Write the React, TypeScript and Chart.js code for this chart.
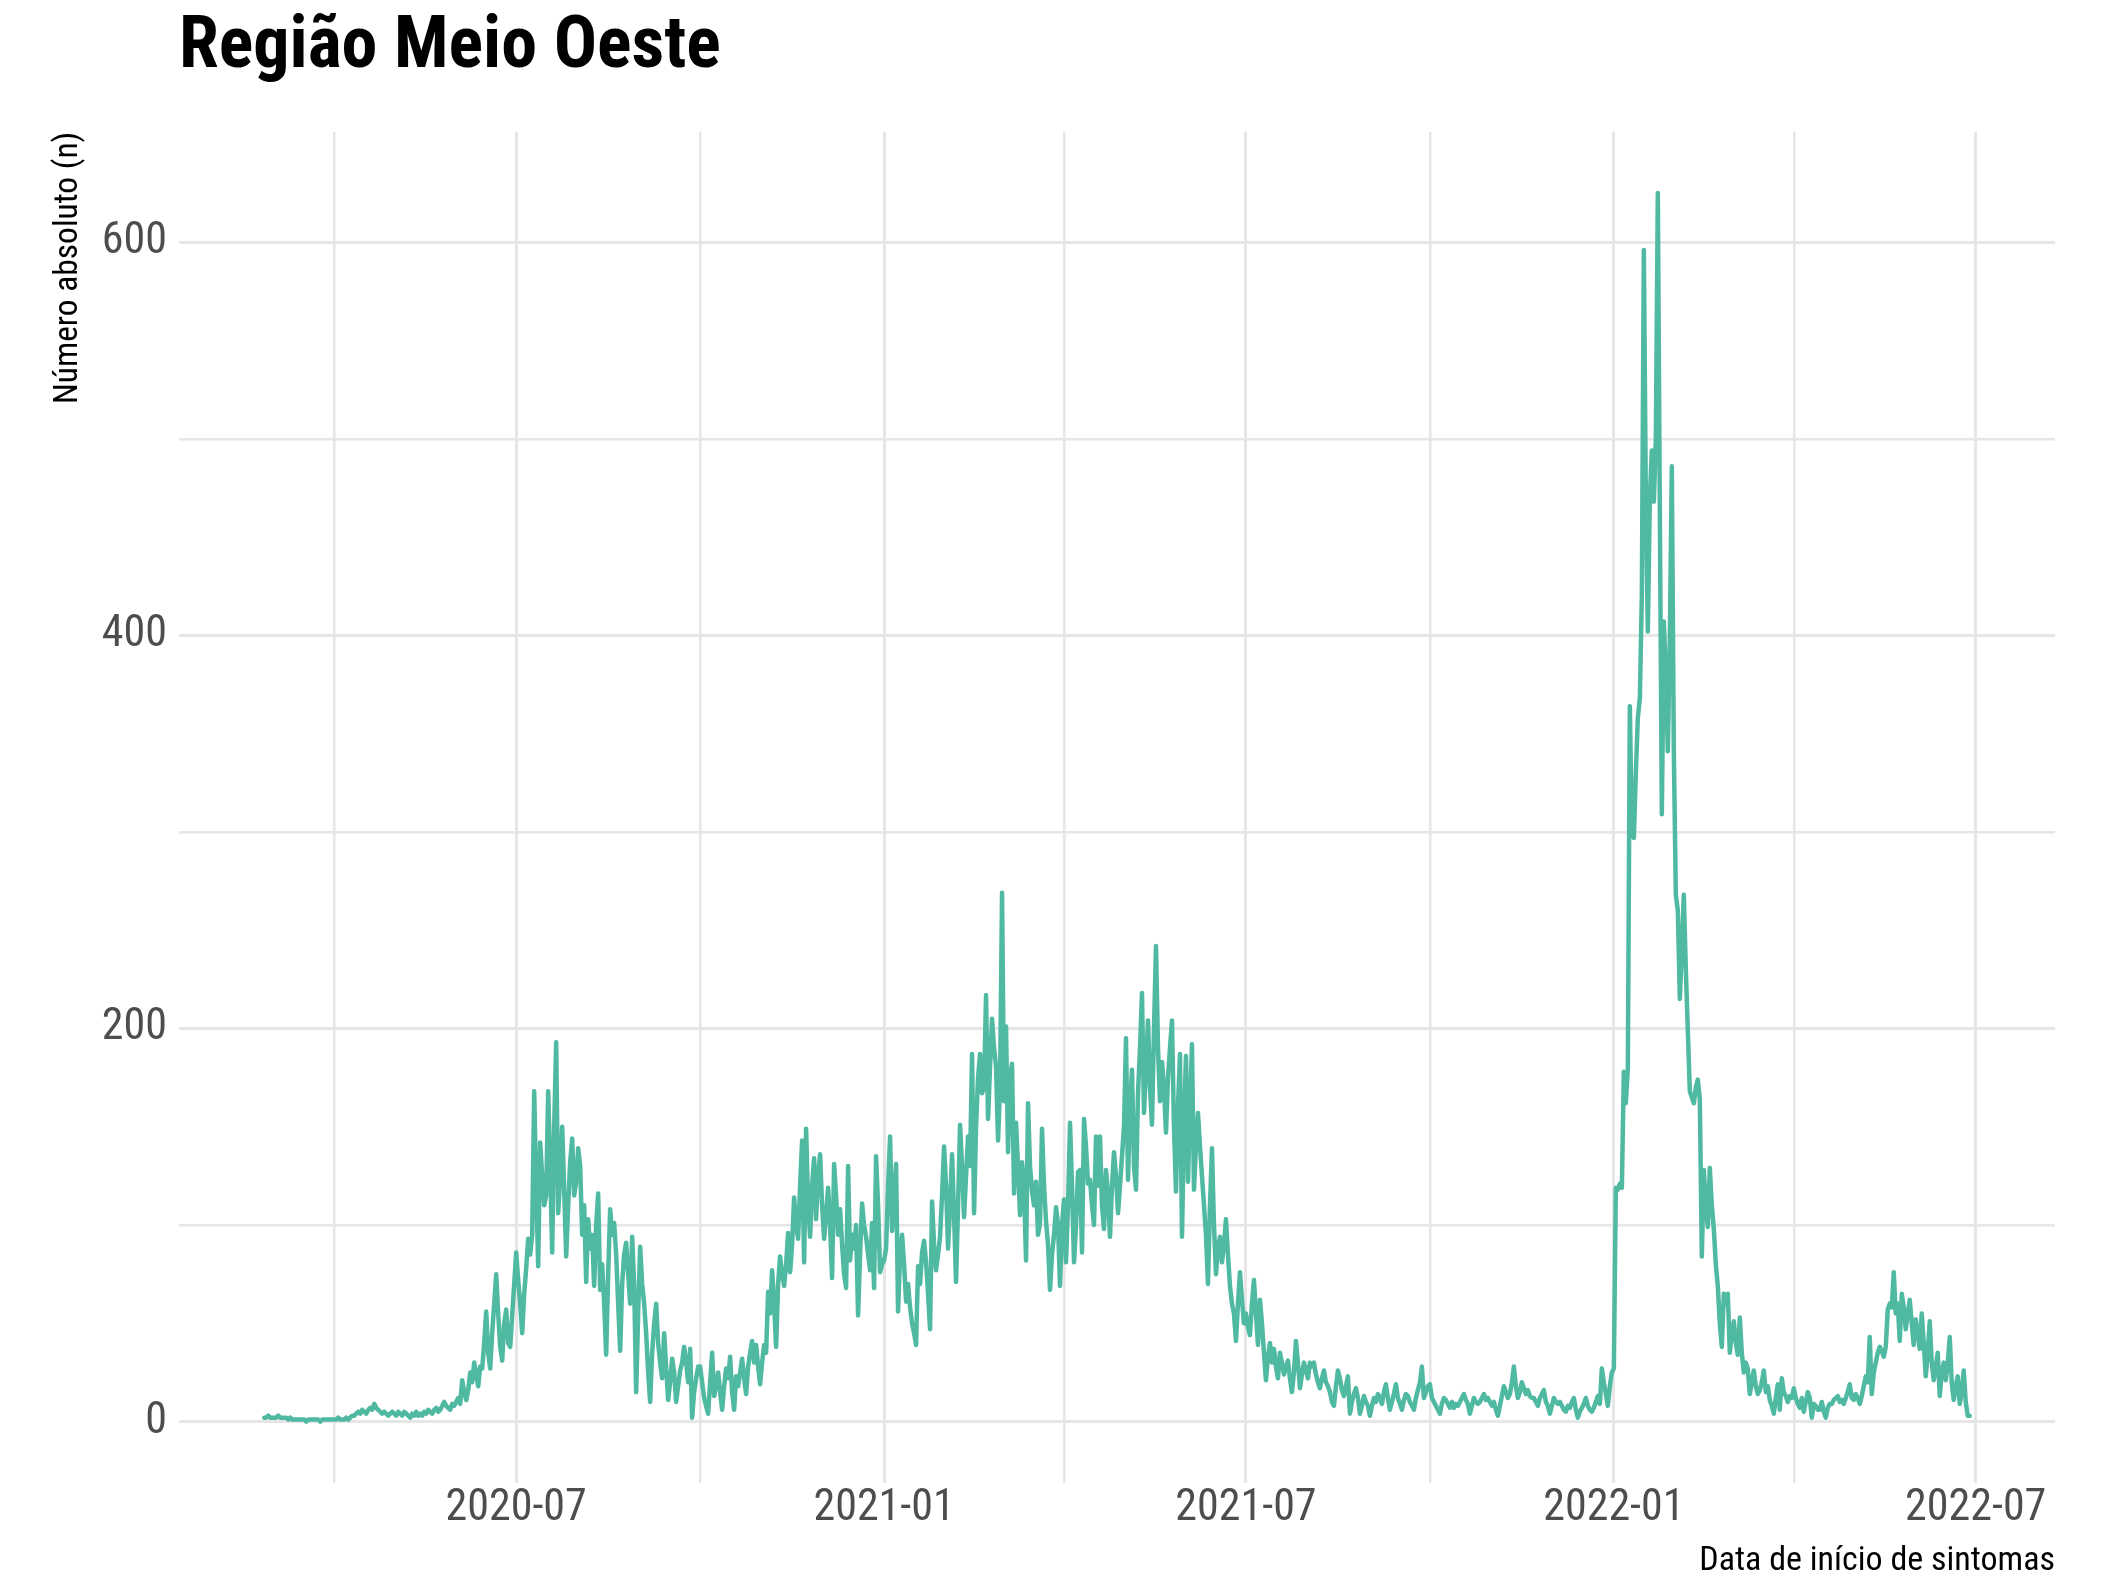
import React, { useEffect, useRef } from "react";
import { Chart, registerables } from "chart.js";

Chart.register(...registerables);

const TITLE = "Região Meio Oeste";
const Y_TITLE = "Número absoluto (n)";
const X_TITLE = "Data de início de sintomas";

// Gridline dates (quarterly) and the labelled ones
const gridDates = [
  "2020-04-01", "2020-07-01", "2020-10-01", "2021-01-01", "2021-04-01",
  "2021-07-01", "2021-10-01", "2022-01-01", "2022-04-01", "2022-07-01",
];
const labeledDates = ["2020-07-01", "2021-01-01", "2021-07-01", "2022-01-01", "2022-07-01"];
const xTickLabels = ["2020-07", "2021-01", "2021-07", "2022-01", "2022-07"];

const yGridValues = [0, 100, 200, 300, 400, 500, 600];
const yTickLabels = [0, 200, 400, 600];

// Daily counts, one array per month (first array starts on 2020-02-26)
const feb2020 = [2, 2, 3, 2];
const mar2020 = [2, 2, 2, 3, 2, 2, 2, 2, 1, 2, 1, 1, 1, 1, 1, 1, 1, 0, 1, 1, 1, 1, 1, 1, 0, 1, 1, 1, 1, 1, 1];
const apr2020 = [1, 1, 2, 1, 1, 1, 2, 1, 2, 3, 3, 4, 5, 4, 6, 5, 4, 6, 7, 6, 9, 7, 6, 5, 4, 5, 4, 3, 4, 5];
const may2020 = [4, 3, 5, 4, 3, 5, 4, 3, 2, 4, 3, 5, 3, 4, 3, 5, 4, 6, 5, 4, 6, 7, 5, 6, 8, 10, 8, 7, 6, 9, 8];
const jun2020 = [10, 12, 9, 21, 15, 11, 16, 25, 20, 30, 24, 18, 28, 27, 40, 56, 35, 27, 45, 60, 75, 55, 38, 31, 50, 57, 40, 38, 54, 70];
const jul2020 = [86, 72, 60, 45, 65, 78, 93, 85, 95, 168, 120, 79, 142, 125, 110, 115, 168, 130, 86, 150, 193, 106, 125, 150, 118, 84, 110, 132, 144, 115, 122];
const aug2020 = [139, 130, 95, 110, 71, 103, 88, 95, 69, 100, 116, 67, 80, 60, 34, 75, 108, 95, 101, 85, 60, 36, 70, 85, 91, 75, 60, 94, 70, 15, 55];
const sep2020 = [89, 70, 60, 45, 25, 10, 35, 50, 60, 40, 30, 22, 45, 28, 11, 20, 32, 25, 10, 18, 26, 30, 38, 30, 20, 37, 2, 15, 22, 28];
const oct2020 = [28, 20, 12, 8, 4, 20, 35, 13, 18, 25, 15, 6, 18, 27, 22, 33, 15, 6, 23, 18, 25, 32, 22, 14, 28, 35, 41, 30, 39, 28, 19];
const nov2020 = [30, 39, 35, 66, 55, 77, 60, 38, 70, 84, 75, 69, 80, 96, 76, 90, 114, 100, 93, 120, 143, 81, 149, 110, 94, 120, 134, 103, 125, 136];
const dec2020 = [110, 93, 105, 119, 100, 73, 131, 115, 95, 108, 90, 75, 68, 130, 82, 95, 88, 100, 54, 85, 111, 100, 94, 85, 77, 101, 68, 135, 110, 76, 80];
const jan2021 = [82, 88, 120, 145, 97, 115, 131, 56, 85, 95, 80, 61, 70, 58, 50, 45, 39, 79, 70, 86, 92, 81, 65, 47, 112, 90, 77, 85, 94, 115, 140];
const feb2021 = [120, 88, 110, 136, 105, 71, 110, 151, 130, 104, 125, 145, 130, 187, 106, 150, 175, 187, 167, 170, 217, 154, 180, 205, 190, 181, 143, 170];
const mar2021 = [269, 163, 201, 137, 175, 182, 116, 152, 130, 105, 132, 120, 82, 162, 130, 117, 110, 122, 95, 101, 149, 120, 102, 90, 67, 85, 95, 109, 100, 69, 100];
const apr2021 = [113, 81, 110, 152, 120, 81, 100, 127, 128, 86, 154, 140, 121, 123, 110, 100, 145, 120, 145, 110, 98, 128, 115, 94, 120, 137, 125, 106, 120, 135];
const may2021 = [150, 195, 123, 160, 179, 130, 118, 167, 190, 218, 157, 180, 204, 170, 151, 200, 242, 190, 163, 183, 170, 147, 175, 190, 204, 150, 117, 160, 187, 94, 150];
const jun2021 = [186, 122, 160, 192, 118, 140, 157, 140, 125, 110, 95, 70, 110, 139, 100, 75, 88, 94, 81, 90, 103, 85, 69, 60, 55, 41, 60, 76, 62, 50];
const jul2021 = [55, 48, 44, 60, 72, 55, 39, 62, 50, 35, 21, 33, 40, 30, 37, 28, 22, 35, 30, 24, 28, 31, 22, 15, 25, 41, 30, 17, 24, 30, 26];
const aug2021 = [22, 30, 28, 30, 24, 20, 17, 22, 26, 20, 18, 15, 10, 8, 18, 26, 22, 16, 13, 18, 23, 4, 10, 14, 17, 12, 4, 8, 13, 10, 8];
const sep2021 = [3, 8, 12, 10, 14, 12, 9, 15, 19, 12, 6, 10, 14, 19, 12, 9, 6, 11, 14, 13, 10, 8, 6, 12, 16, 20, 28, 12, 15, 18];
const oct2021 = [19, 12, 10, 8, 6, 4, 9, 12, 11, 9, 7, 10, 7, 9, 8, 10, 12, 14, 11, 9, 4, 8, 12, 10, 9, 10, 12, 14, 11, 12, 10];
const nov2021 = [8, 10, 6, 3, 8, 13, 18, 15, 12, 14, 20, 28, 18, 12, 15, 20, 17, 14, 16, 13, 12, 12, 10, 8, 12, 14, 16, 10, 8, 4];
const dec2021 = [8, 12, 10, 9, 10, 8, 6, 5, 8, 7, 10, 12, 6, 2, 5, 7, 9, 12, 8, 6, 5, 7, 10, 13, 9, 27, 20, 14, 8, 18, 25];
const jan2022 = [27, 119, 118, 121, 119, 178, 162, 180, 364, 300, 297, 330, 358, 368, 420, 596, 470, 402, 470, 494, 468, 500, 625, 464, 309, 407, 380, 341, 398, 486, 341];
const feb2022 = [268, 260, 215, 240, 268, 230, 199, 168, 165, 162, 170, 174, 164, 84, 128, 110, 99, 129, 110, 98, 80, 69, 50, 38, 65, 60, 65, 35];
const mar2022 = [45, 51, 40, 34, 53, 35, 25, 30, 27, 14, 20, 26, 18, 14, 16, 20, 26, 15, 18, 11, 8, 4, 12, 19, 6, 22, 15, 13, 10, 13, 12];
const apr2022 = [17, 12, 9, 7, 12, 5, 10, 15, 12, 2, 9, 8, 6, 6, 10, 5, 2, 7, 9, 9, 11, 12, 13, 10, 11, 9, 12, 15, 19, 12];
const may2022 = [11, 14, 12, 9, 13, 18, 23, 20, 43, 14, 25, 30, 35, 38, 36, 33, 38, 57, 60, 58, 76, 55, 60, 41, 65, 58, 47, 55, 62, 50, 39];
const jun2022 = [52, 45, 37, 55, 40, 23, 35, 51, 30, 21, 28, 35, 13, 25, 30, 21, 30, 43, 20, 11, 18, 23, 9, 15, 26, 10, 3, 3];

const monthStarts = [
  "2020-02-26", "2020-03-01", "2020-04-01", "2020-05-01", "2020-06-01", "2020-07-01",
  "2020-08-01", "2020-09-01", "2020-10-01", "2020-11-01", "2020-12-01",
  "2021-01-01", "2021-02-01", "2021-03-01", "2021-04-01", "2021-05-01", "2021-06-01",
  "2021-07-01", "2021-08-01", "2021-09-01", "2021-10-01", "2021-11-01", "2021-12-01",
  "2022-01-01", "2022-02-01", "2022-03-01", "2022-04-01", "2022-05-01", "2022-06-01",
];
const monthValues = [
  feb2020, mar2020, apr2020, may2020, jun2020, jul2020, aug2020, sep2020, oct2020, nov2020, dec2020,
  jan2021, feb2021, mar2021, apr2021, may2021, jun2021, jul2021, aug2021, sep2021, oct2021, nov2021, dec2021,
  jan2022, feb2022, mar2022, apr2022, may2022, jun2022,
];

const FONT = "Roboto";
const LINE_COLOR = "#4fb9a2";
const GRID_COLOR = "#e6e6e6";

function dayNum(s: string): number {
  const [y, m, d] = s.split("-").map(Number);
  return Math.round((Date.UTC(y, m - 1, d) - Date.UTC(2020, 3, 1)) / 86400000);
}

export default function App() {
  const ref = useRef<HTMLCanvasElement | null>(null);

  useEffect(() => {
    if (!ref.current) return;
    const points: { x: number; y: number }[] = [];
    monthStarts.forEach((s, i) => {
      const start = dayNum(s);
      monthValues[i].forEach((v, j) => points.push({ x: start + j, y: v }));
    });
    const xFirst = points[0].x;
    const xLast = points[points.length - 1].x;
    const xPad = 0.05 * (xLast - xFirst);
    const yMaxData = Math.max(...points.map((p) => p.y));
    const yPad = 0.05 * yMaxData;

    const gridDays = gridDates.map(dayNum);
    const labelMap: Record<number, string> = {};
    labeledDates.forEach((d, i) => (labelMap[dayNum(d)] = xTickLabels[i]));
    const majorX = new Set(labeledDates.map(dayNum));
    const majorY = new Set(yTickLabels);

    const chart = new Chart(ref.current, {
      type: "line",
      data: {
        datasets: [
          {
            data: points,
            borderColor: LINE_COLOR,
            borderWidth: 4.5,
            pointRadius: 0,
            tension: 0,
            borderJoinStyle: "round",
            borderCapStyle: "round",
            fill: false,
          },
        ],
      },
      options: {
        responsive: false,
        animation: false,
        devicePixelRatio: 1,
        layout: { padding: { left: 0, right: 46, top: 0, bottom: 0 } },
        plugins: {
          legend: { display: false },
          tooltip: { enabled: false },
          title: {
            display: true,
            text: TITLE,
            align: "start",
            fullSize: false,
            color: "#000000",
            font: { family: FONT, size: 72, weight: "condensed bold", lineHeight: 1.2 },
            padding: { top: 6.2, bottom: 39.1 },
          },
        },
        scales: {
          x: {
            type: "linear",
            min: xFirst - xPad,
            max: xLast + xPad,
            border: { display: false },
            grid: {
              drawTicks: false,
              color: GRID_COLOR,
              lineWidth: (c: any) => (c.tick && majorX.has(c.tick.value) ? 3 : 2.5),
            },
            afterBuildTicks: (s: any) => {
              s.ticks = gridDays.map((v) => ({ value: v }));
            },
            afterFit: (s: any) => {
              s.height = 100;
            },
            ticks: {
              autoSkip: false,
              maxRotation: 0,
              minRotation: 0,
              padding: 0,
              color: "#4d4d4d",
              font: { family: FONT, size: 44, weight: "condensed normal", lineHeight: 1.2 },
              callback: (v: any) => labelMap[Number(v)] ?? "",
            },
            title: {
              display: true,
              text: X_TITLE,
              align: "end",
              color: "#000000",
              font: { family: FONT, size: 34, lineHeight: 1.2, weight: "condensed normal" },
              padding: { top: 0, bottom: 1.6 },
            },
          },
          y: {
            type: "linear",
            min: -yPad,
            max: yMaxData + yPad,
            border: { display: false },
            grid: {
              drawTicks: false,
              color: GRID_COLOR,
              lineWidth: (c: any) => (c.tick && majorY.has(c.tick.value) ? 3 : 2.5),
            },
            afterBuildTicks: (s: any) => {
              s.ticks = yGridValues.map((v) => ({ value: v }));
            },
            afterFit: (s: any) => {
              s.width = 179;
            },
            ticks: {
              padding: 12,
              color: "#4d4d4d",
              font: { family: FONT, size: 44, weight: "condensed normal" },
              callback: (v: any) => (majorY.has(Number(v)) ? String(v) : ""),
            },
            title: {
              display: true,
              text: Y_TITLE,
              align: "end",
              color: "#000000",
              font: { family: FONT, size: 33.5, lineHeight: 1.2, weight: "condensed normal" },
              padding: { top: 49, bottom: 0 },
            },
          },
        },
      },
    } as any);
    return () => chart.destroy();
  }, []);

  return (
    <canvas
      ref={ref}
      width={2101}
      height={1583}
      style={{ position: "absolute", left: 0, top: 0, width: 2101, height: 1583, display: "block" }}
    />
  );
}
